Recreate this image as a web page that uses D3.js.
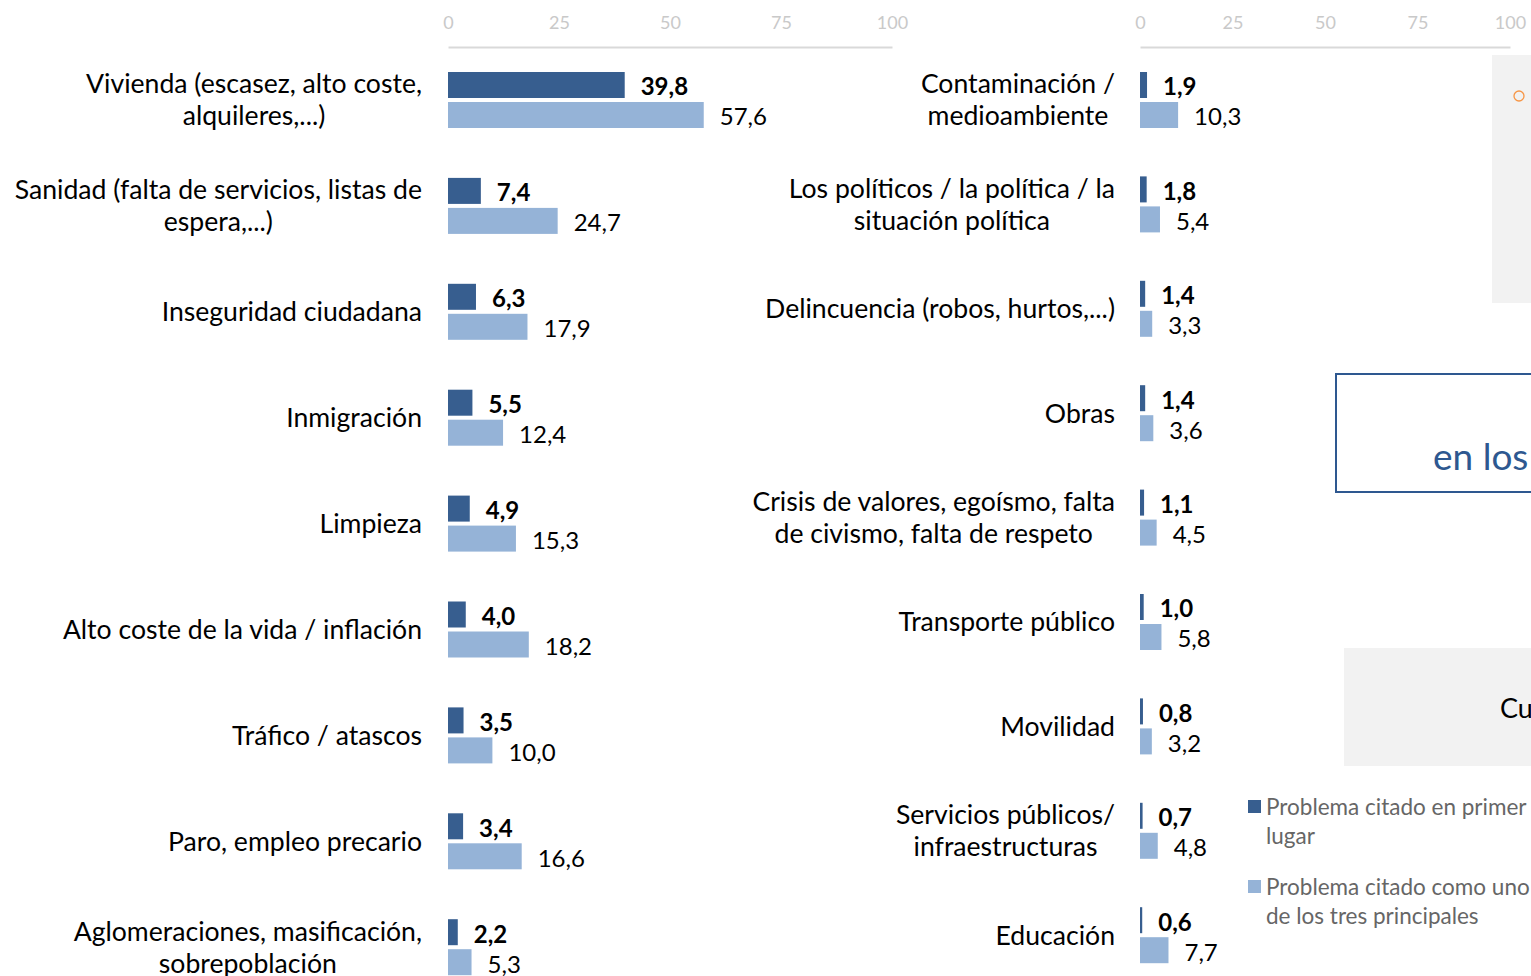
<!DOCTYPE html>
<html>
<head>
<meta charset="utf-8">
<script src="https://cdn.jsdelivr.net/npm/d3@7"></script>
<style>
  body { margin: 0; background: #fff; }
  svg { display: block; font-family: Lato, "Open Sans", sans-serif; }
</style>
</head>
<body>
<div id="chart"></div>
<script>
// left panel
const leftCats = [
  ["Vivienda (escasez, alto coste,", "alquileres,...)"],
  ["Sanidad (falta de servicios, listas de", "espera,...)"],
  ["Inseguridad ciudadana"],
  ["Inmigración"],
  ["Limpieza"],
  ["Alto coste de la vida / inflación"],
  ["Tráfico / atascos"],
  ["Paro, empleo precario"],
  ["Aglomeraciones, masificación,", "sobrepoblación"]
];
const leftFirst = [39.8, 7.4, 6.3, 5.5, 4.9, 4.0, 3.5, 3.4, 2.2];
const leftTop3 = [57.6, 24.7, 17.9, 12.4, 15.3, 18.2, 10.0, 16.6, 5.3];

// right panel
const rightCats = [
  ["Contaminación /", "medioambiente"],
  ["Los políticos / la política / la", "situación política"],
  ["Delincuencia (robos, hurtos,...)"],
  ["Obras"],
  ["Crisis de valores, egoísmo, falta", "de civismo, falta de respeto"],
  ["Transporte público"],
  ["Movilidad"],
  ["Servicios públicos/", "infraestructuras"],
  ["Educación"]
];
const rightFirst = [1.9, 1.8, 1.4, 1.4, 1.1, 1.0, 0.8, 0.7, 0.6];
const rightTop3 = [10.3, 5.4, 3.3, 3.6, 4.5, 5.8, 3.2, 4.8, 7.7];

const ticks = [0, 25, 50, 75, 100];
const legendLabels = [
  ["Problema citado en primer", "lugar"],
  ["Problema citado como uno", "de los tres principales"]
];

const dark = "#375e8f", light = "#95b3d7";
const W = 1531, H = 976;

const svg = d3.select("#chart").append("svg")
  .attr("width", W).attr("height", H);

const fmt = v => v.toFixed(1).replace(".", ",");

function panel(cats, first, top3, x0, x1, step, labelRight) {
  const x = d3.scaleLinear().domain([0, 100]).range([x0, x1]);
  const idx = d3.range(cats.length);
  const y = d3.scaleBand().domain(idx).range([72, 72 + step * cats.length]).padding(0);
  const g = svg.append("g");

  // axis on top
  const ax = g.append("g")
    .attr("transform", "translate(0,47)")
    .call(d3.axisTop(x).tickValues(ticks).tickSize(0).tickPadding(18));
  ax.select(".domain").attr("stroke", "#d9d9d9").attr("stroke-width", 2);
  ax.selectAll("text")
    .attr("fill", "#c9c9c9")
    .style("font-size", "18px")
    .style("font-family", "Lato, sans-serif");

  // bars
  g.selectAll(".b1").data(idx).join("rect")
    .attr("x", x(0)).attr("y", i => y(i))
    .attr("width", i => x(first[i]) - x(0)).attr("height", 26)
    .attr("fill", dark);
  g.selectAll(".b2").data(idx).join("rect")
    .attr("x", x(0)).attr("y", i => y(i) + 30)
    .attr("width", i => x(top3[i]) - x(0)).attr("height", 26)
    .attr("fill", light);

  // value labels
  g.selectAll(".v1").data(idx).join("text")
    .attr("x", i => x(first[i]) + 16).attr("y", i => y(i) + 15)
    .attr("dy", "0.35em")
    .style("font-size", "24px").style("font-weight", "bold")
    .attr("fill", "#000")
    .text(i => fmt(first[i]));
  g.selectAll(".v2").data(idx).join("text")
    .attr("x", i => x(top3[i]) + 16).attr("y", i => y(i) + 45)
    .attr("dy", "0.35em")
    .style("font-size", "24px")
    .attr("fill", "#000")
    .text(i => fmt(top3[i]));

  // category labels, block right aligned, lines centred
  idx.forEach(i => {
    const lines = cats[i];
    const t = g.append("text")
      .style("font-size", "26.6px").attr("fill", "#000");
    const cy = y(i) + 28;
    lines.forEach((l, k) => {
      t.append("tspan").text(l)
        .attr("y", cy + (k - (lines.length - 1) / 2) * 32)
        .attr("dy", "0.35em");
    });
    const wMax = d3.max(t.selectAll("tspan").nodes(), n => n.getComputedTextLength());
    t.attr("text-anchor", "middle");
    t.selectAll("tspan").attr("x", labelRight - wMax / 2);
  });
}

panel(leftCats, leftFirst, leftTop3, 448, 892, 105.9, 422);
panel(rightCats, rightFirst, rightTop3, 1140, 1510, 104.4, 1115);

// cut-off elements on the right edge
svg.append("rect").attr("x", 1492).attr("y", 55).attr("width", 60).attr("height", 248)
  .attr("fill", "#f2f2f2");
svg.append("circle").attr("cx", 1519).attr("cy", 96).attr("r", 5)
  .attr("fill", "none").attr("stroke", "#f79646").attr("stroke-width", 1.3);

svg.append("rect").attr("x", 1336).attr("y", 374).attr("width", 220).attr("height", 118)
  .attr("fill", "none").attr("stroke", "#2e5890").attr("stroke-width", 2);
svg.append("text").attr("x", 1433).attr("y", 470)
  .style("font-size", "37px").attr("fill", "#2e5890").text("en los");

svg.append("rect").attr("x", 1344).attr("y", 648).attr("width", 220).attr("height", 118)
  .attr("fill", "#f2f2f2");
svg.append("text").attr("x", 1500).attr("y", 709).attr("dy", "0.35em")
  .style("font-size", "27px").attr("fill", "#000").text("Cu");

// legend
const lg = svg.append("g");
[dark, light].forEach((c, i) => {
  const y0 = 800 + i * 80;
  lg.append("rect").attr("x", 1248).attr("y", y0).attr("width", 13).attr("height", 13).attr("fill", c);
  legendLabels[i].forEach((l, k) => {
    lg.append("text").attr("x", 1266).attr("y", y0 + 7 + k * 29).attr("dy", "0.35em")
      .style("font-size", "22.5px").attr("fill", "#666").text(l);
  });
});
</script>
</body>
</html>
